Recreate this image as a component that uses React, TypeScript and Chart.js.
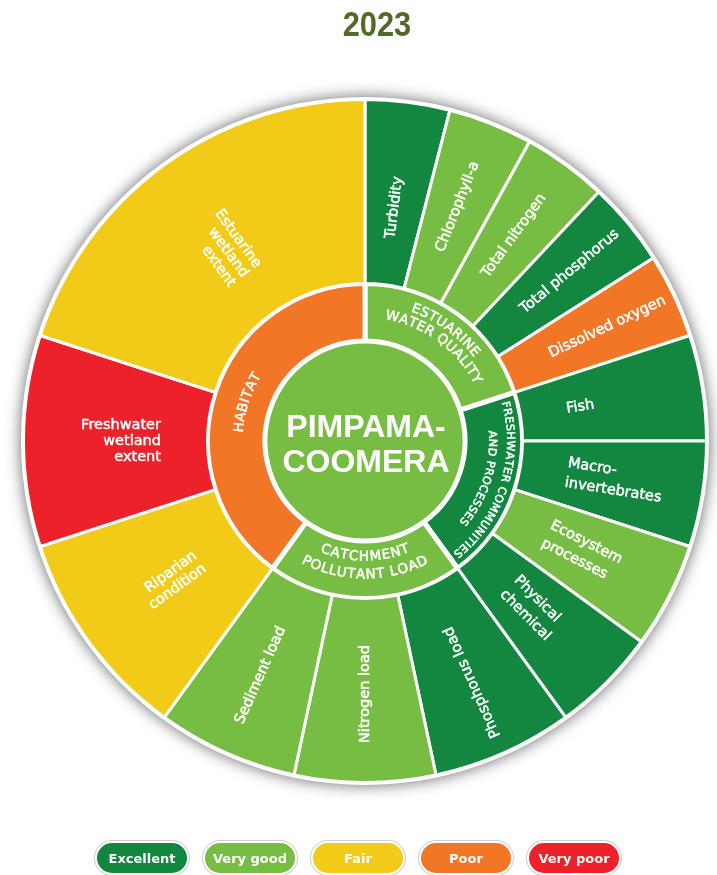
import React, { useEffect, useRef } from 'react';
import { Chart, registerables } from 'chart.js';

Chart.register(...registerables);

// ---------- data ----------
const TITLE = '2023';
const centerLines = ['PIMPAMA-', 'COOMERA'];
const centerRating = 'Very good';

const ratingNames = ['Excellent', 'Very good', 'Fair', 'Poor', 'Very poor'];
const ratingColors = ['#13873f', '#77bd43', '#f1cb17', '#f17626', '#ec2129'];

const groupLabels = [
  ['ESTUARINE', 'WATER QUALITY'],
  ['FRESHWATER COMMUNITIES', 'AND PROCESSES'],
  ['CATCHMENT', 'POLLUTANT LOAD'],
  ['HABITAT'],
];
const groupSpans = [72, 72, 72, 144];
const groupRatings = ['Very good', 'Excellent', 'Very good', 'Poor'];

const indicatorLabels = [
  ['Turbidity'],
  ['Chlorophyll-a'],
  ['Total nitrogen'],
  ['Total phosphorus'],
  ['Dissolved oxygen'],
  ['Fish'],
  ['Macro-', 'invertebrates'],
  ['Ecosystem', 'processes'],
  ['Physical', 'chemical'],
  ['Phosphorus load'],
  ['Nitrogen load'],
  ['Sediment load'],
  ['Riparian', 'condition'],
  ['Freshwater', 'wetland', 'extent'],
  ['Estuarine', 'wetland', 'extent'],
];
const indicatorSpans = [14.4, 14.4, 14.4, 14.4, 14.4, 18, 18, 18, 18, 24, 24, 24, 36, 36, 72];
const indicatorRatings = [
  'Excellent', 'Very good', 'Very good', 'Excellent', 'Poor',
  'Excellent', 'Excellent', 'Very good', 'Excellent',
  'Excellent', 'Very good', 'Very good',
  'Fair', 'Very poor', 'Fair',
];

// ---------- styles ----------
const colorOf = (r: string) => ratingColors[ratingNames.indexOf(r)];
const LABEL_FONT = '"DejaVu Sans", "Noto Sans", sans-serif';
const groupLineRadii = [[141, 127], [145, 127], [116, 134], [126]];
const groupFontSizes = [13.5, 11, 13.5, 13.5];

function fillBold(ctx: CanvasRenderingContext2D, t: string, x: number, y: number, w: number) {
  ctx.fillText(t, x, y);
  if (w > 0) {
    ctx.lineWidth = w;
    ctx.strokeText(t, x, y);
  }
}

function drawCurved(ctx: CanvasRenderingContext2D, text: string, cx: number, cy: number, r: number, mid: number, outward: boolean, tracking: number, stroke: number) {
  const chars = Array.from(text);
  const widths = chars.map((c) => ctx.measureText(c).width);
  const total = widths.reduce((a, b) => a + b, 0) + tracking * (chars.length - 1);
  const span = total / r;
  let acc = 0;
  chars.forEach((ch, i) => {
    const w = widths[i];
    const off = (acc + w / 2) / r;
    const a = outward ? mid - span / 2 + off : mid + span / 2 - off;
    ctx.save();
    ctx.translate(cx + r * Math.cos(a), cy + r * Math.sin(a));
    ctx.rotate(outward ? a + Math.PI / 2 : a - Math.PI / 2);
    fillBold(ctx, ch, 0, 0, stroke);
    ctx.restore();
    acc += w + tracking;
  });
}

const sunburstPlugin = {
  id: 'sunburstDecor',
  beforeDatasetsDraw(chart: any) {
    const ctx: CanvasRenderingContext2D = chart.ctx;
    const arc = chart.getDatasetMeta(0).data[0];
    const { x, y, outerRadius } = arc.getProps(['x', 'y', 'outerRadius'], true);
    ctx.save();
    ctx.shadowColor = 'rgba(0,0,0,0.6)';
    ctx.shadowBlur = 15;
    ctx.fillStyle = '#ffffff';
    ctx.beginPath();
    ctx.arc(x, y, outerRadius + 2.5, 0, Math.PI * 2);
    ctx.fill();
    ctx.restore();
  },
  afterDatasetsDraw(chart: any) {
    const ctx: CanvasRenderingContext2D = chart.ctx;
    ctx.save();
    ctx.fillStyle = '#ffffff';
    ctx.strokeStyle = '#ffffff';
    ctx.lineJoin = 'round';

    // outer ring labels
    const outer = chart.getDatasetMeta(0).data;
    ctx.font = `14.5px ${LABEL_FONT}`;
    ctx.textBaseline = 'middle';
    outer.forEach((el: any, i: number) => {
      const p = el.getProps(['x', 'y', 'startAngle', 'endAngle', 'innerRadius'], true);
      const m = (p.startAngle + p.endAngle) / 2;
      const deg = (m * 180) / Math.PI + 90;
      const lines = indicatorLabels[i];
      const n = lines.length;
      const rText = p.innerRadius + 46.5;
      const lh = deg < 180 ? 20 : 16;
      ctx.save();
      ctx.translate(p.x, p.y);
      if (deg < 150) {
        ctx.rotate(m);
        ctx.textAlign = 'left';
        lines.forEach((ln, k) => fillBold(ctx, ln, rText, (k - (n - 1) / 2) * lh, 0.5));
      } else {
        ctx.rotate(m + Math.PI);
        ctx.textAlign = 'right';
        lines.forEach((ln, k) => fillBold(ctx, ln, -rText, (k - (n - 1) / 2) * lh, 0.5));
      }
      ctx.restore();
    });

    // middle ring labels (curved)
    const middle = chart.getDatasetMeta(1).data;
    ctx.textAlign = 'center';
    ctx.textBaseline = 'middle';
    middle.forEach((el: any, i: number) => {
      const p = el.getProps(['x', 'y', 'startAngle', 'endAngle'], true);
      const m = (p.startAngle + p.endAngle) / 2;
      const deg = (m * 180) / Math.PI + 90;
      const outward = !(deg > 150 && deg < 210);
      ctx.font = `${groupFontSizes[i]}px ${LABEL_FONT}`;
      groupLabels[i].forEach((ln, k) => {
        drawCurved(ctx, ln, p.x, p.y, groupLineRadii[i][k], m, outward, 0.6, 0.5);
      });
    });

    // center label
    const c = chart.getDatasetMeta(2).data[0].getProps(['x', 'y'], true);
    ctx.font = 'bold 32px "Liberation Sans", Arial, sans-serif';
    ctx.textAlign = 'center';
    ctx.textBaseline = 'alphabetic';
    ctx.fillText(centerLines[0], c.x + 1, c.y - 4);
    ctx.fillText(centerLines[1], c.x + 1, c.y + 31);
    ctx.restore();
  },
};

export default function App() {
  const ref = useRef<HTMLCanvasElement | null>(null);

  useEffect(() => {
    if (!ref.current) return;
    const chart = new Chart(ref.current, {
      type: 'doughnut',
      data: {
        labels: indicatorLabels.map((l) => l.join(' ')),
        datasets: [
          {
            data: indicatorSpans,
            backgroundColor: indicatorRatings.map(colorOf),
            borderColor: '#ffffff',
            borderWidth: 3,
            weight: 184,
          },
          {
            data: groupSpans,
            backgroundColor: groupRatings.map(colorOf),
            borderColor: '#ffffff',
            borderWidth: 5,
            weight: 57.5,
          },
          {
            data: [360],
            backgroundColor: [colorOf(centerRating)],
            borderWidth: 0,
            weight: 100,
          },
        ],
      },
      options: {
        responsive: false,
        animation: false,
        devicePixelRatio: 1,
        radius: 341.5,
        cutout: 0,
        events: [],
        layout: { padding: { left: 13, right: 0, top: 7, bottom: 0 } },
        plugins: {
          legend: { display: false },
          tooltip: { enabled: false },
          title: { display: false },
        },
      } as any,
      plugins: [sunburstPlugin],
    });
    return () => chart.destroy();
  }, []);

  return (
    <div style={{ position: 'absolute', left: 0, top: 0, width: 717, height: 875, background: '#fff', overflow: 'hidden' }}>
      <canvas ref={ref} width={717} height={875} style={{ position: 'absolute', left: 0, top: 0, display: 'block' }} />
      <div
        style={{
          position: 'absolute',
          left: 0,
          width: 754,
          top: 4,
          textAlign: 'center',
          font: 'bold 35px "Liberation Sans", Arial, sans-serif',
          color: '#4f6b27',
          lineHeight: '40px',
          transform: 'scaleX(0.88)',
          transformOrigin: '377px 0',
        }}
      >
        {TITLE}
      </div>
      <div style={{ position: 'absolute', left: 95, top: 841, display: 'flex', gap: 14 }}>
        {ratingNames.map((n, i) => (
          <div
            key={n}
            style={{
              boxSizing: 'border-box',
              width: 94,
              height: 34,
              borderRadius: 17,
              background: ratingColors[i],
              border: '2px solid #fff',
              boxShadow: '0 0 0 1px #d0d0d0',
              color: '#fff',
              font: `bold 13px ${LABEL_FONT}`,
              display: 'flex',
              alignItems: 'center',
              justifyContent: 'center',
            }}
          >
            {n}
          </div>
        ))}
      </div>
    </div>
  );
}
